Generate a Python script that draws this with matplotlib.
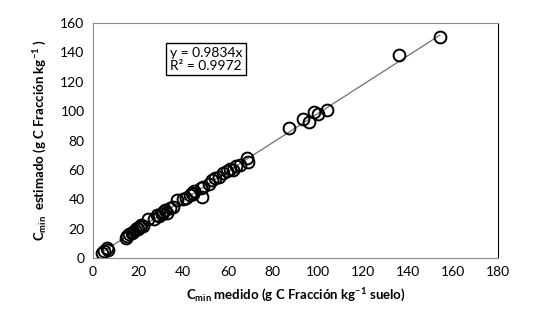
import numpy as np
import matplotlib.pyplot as plt

plt.rcParams['font.family'] = ['Lato', 'DejaVu Sans']
plt.rcParams['mathtext.fontset'] = 'custom'
plt.rcParams['mathtext.rm'] = 'Lato'
plt.rcParams['mathtext.bf'] = 'Lato:bold'
plt.rcParams['savefig.dpi'] = 100
plt.rcParams['figure.facecolor'] = 'white'

medido = [3.9, 4.8, 6.1, 6.5, 14.8, 15.2, 16.0, 17.2, 17.8, 18.5, 19.4, 20.0, 20.8, 21.6, 22.3,
          24.6, 27.0, 28.3, 29.5, 30.5, 31.3, 32.0, 33.0, 34.2, 35.5, 37.2, 40.0, 41.6, 43.0,
          43.9, 44.5, 45.0, 48.3, 48.0, 49.0, 51.5, 53.0, 54.2, 56.0, 57.9, 59.5, 61.0, 62.4,
          63.5, 65.3, 68.3, 69.0,
          87.1, 93.5, 96.1, 98.4, 100.1, 103.9, 136.0, 154.2]
estimado = [3.2, 4.5, 6.6, 5.8, 14.0, 15.0, 16.5, 16.8, 18.0, 19.0, 20.2, 19.5, 21.0, 22.4, 22.0,
            26.3, 26.5, 29.3, 28.5, 30.0, 31.5, 32.5, 31.0, 33.8, 34.5, 39.5, 40.0, 40.6, 43.0,
            44.0, 43.5, 45.5, 41.7, 47.5, 48.5, 50.5, 53.0, 54.2, 55.0, 57.6, 59.0, 60.5, 59.9,
            62.5, 63.3, 67.8, 65.1,
            88.2, 94.3, 92.3, 99.5, 97.7, 100.7, 138.0, 150.5]
pendiente = 0.9834
r2 = 0.9972

fig = plt.figure(figsize=(5.37, 3.23))
ax = fig.add_axes([0.173, 0.201, 0.754, 0.728])

xl = np.array([min(medido), max(medido)])
ax.plot(xl, pendiente * xl, color='#707070', lw=0.9, zorder=1)
ax.plot(medido, estimado, 'o', ms=8.5, mfc='none', mec='black', mew=1.4, zorder=2)

ax.set_xlim(0, 180)
ax.set_ylim(0, 160)
ax.set_xticks(range(0, 181, 20))
ax.set_yticks(range(0, 161, 20))
ax.tick_params(length=0, labelsize=10, pad=6)
for s in ['left', 'bottom', 'top']:
    ax.spines[s].set_color('#8c8c8c')
ax.spines['right'].set_color('black')

ax.set_xlabel(r'C$_{\mathbf{min}}$ medido (g C Fracción kg$^{\mathbf{-1}}$ suelo)',
              fontsize=9.5, fontweight='bold', labelpad=6)
ax.set_ylabel(r'C$_{\mathbf{min}}$  estimado (g C Fracción kg$^{\mathbf{-1}}$ )',
              fontsize=9.5, fontweight='bold', labelpad=8)

ax.text(0.19, 0.845, 'y = %.4fx\nR² = %.4f' % (pendiente, r2), transform=ax.transAxes,
        fontsize=10, va='center', ha='left', linespacing=1.1,
        bbox=dict(boxstyle='square,pad=0.25', fc='white', ec='black', lw=1))

plt.savefig('out.png')
